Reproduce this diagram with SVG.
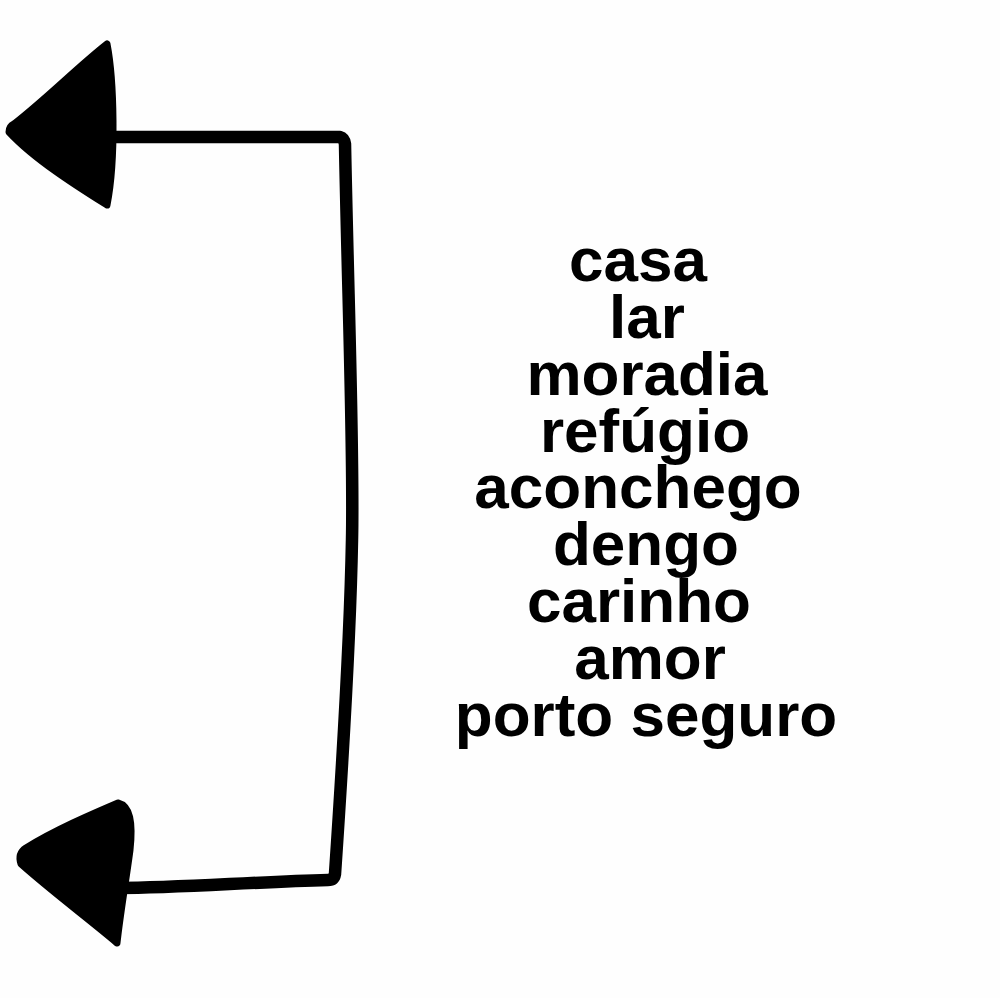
<svg xmlns="http://www.w3.org/2000/svg" width="1000" height="998" viewBox="0 0 1000 998">
<style>
.line{fill:none;stroke:#000;stroke-width:12.5;stroke-linecap:round;stroke-linejoin:round}
.head{fill:#000;stroke:#000;stroke-width:7;stroke-linejoin:round}
.word{font-family:"Liberation Sans",Arial,sans-serif;font-weight:bold;font-size:62px;fill:#000;text-anchor:middle}
</style>
<rect width="1000" height="998" fill="#fefefe"/>
<g id="connectors">
<path class="line" d="M112,137 L340,137 Q344,138 345,144 C348,300 354,450 352,540 C350,650 340,800 335,874 Q334,880 328,880 C250,882 180,888 118,888"/>
</g>
<g id="arrow-top">
<path class="head" d="M107,44 C114,80 116,160 107,205 C80,188 35,160 9,132 C9,128 10,126 14,124 C45,100 80,65 107,44 Z"/>
</g>
<g id="arrow-bottom">
<path class="head" d="M118,803 C130,806 133,822 130,850 C126,880 120,915 117,943 C90,920 50,890 21,864 C19,858 20,852 26,848 C55,830 90,815 118,803 Z"/>
</g>
<g id="words">
<text class="word" x="638" y="281">casa</text>
<text class="word" x="647" y="338">lar</text>
<text class="word" x="647" y="395">moradia</text>
<text class="word" x="645" y="452">refúgio</text>
<text class="word" x="638" y="508">aconchego</text>
<text class="word" x="646" y="565">dengo</text>
<text class="word" x="639" y="622">carinho</text>
<text class="word" x="650" y="679">amor</text>
<text class="word" x="646" y="736">porto seguro</text>
</g>
</svg>
